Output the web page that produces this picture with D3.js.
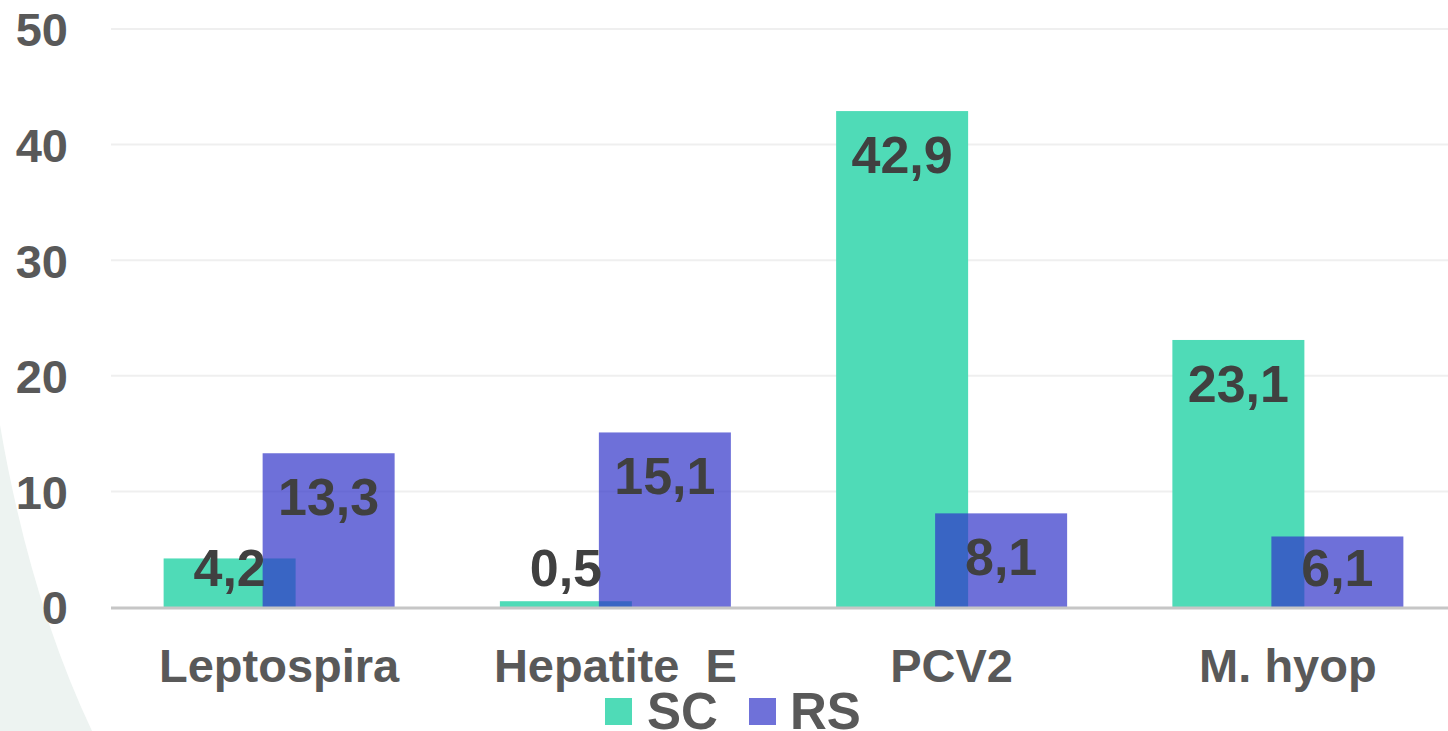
<!DOCTYPE html>
<html>
<head>
<meta charset="utf-8">
<script src="https://cdn.jsdelivr.net/npm/d3@7"></script>
<style>
  html, body { margin: 0; padding: 0; background: #ffffff; overflow: hidden; }
  svg { display: block; font-family: "Liberation Sans", Arial, sans-serif; }
</style>
</head>
<body>
<svg id="chart" width="1448" height="731"></svg>
<script>
const categories = ["Leptospira", "Hepatite  E", "PCV2", "M. hyop"];
const seriesNames = ["SC", "RS"];
const scValues = [4.2, 0.5, 42.9, 23.1];
const rsValues = [13.3, 15.1, 8.1, 6.1];
const yTicks = [0, 10, 20, 30, 40, 50];
const valueLabels = { SC: ["4,2", "0,5", "42,9", "23,1"], RS: ["13,3", "15,1", "8,1", "6,1"] };

const colors = { SC: "#4fdbb7", RS: "rgba(48,51,201,0.7)" };
const legendColors = { SC: "#4fdbb7", RS: "#6f71d9" };

const svg = d3.select("#chart");

// faint background decoration
svg.append("path")
  .attr("d", "M0,425 Q30,600 92,731 L0,731 Z")
  .attr("fill", "#edf3f1");

const x = d3.scaleBand().domain(categories).range([111, 1456]).padding(0);
const y = d3.scaleLinear().domain([0, 50]).range([607, 29]);
const off = d3.scalePoint().domain(seriesNames).range([-49.5, 49.5]);
const barW = 132;

// gridlines
svg.append("g").selectAll("line").data(yTicks.filter(d => d !== 0)).join("line")
  .attr("x1", 111).attr("x2", 1448)
  .attr("y1", d => y(d)).attr("y2", d => y(d))
  .attr("stroke", "#efefef").attr("stroke-width", 2);

// y axis labels
const yAxis = d3.axisLeft(y).tickValues(yTicks).tickSize(0).tickPadding(0).tickFormat(d3.format("d"));
const gy = svg.append("g").attr("transform", "translate(68,0)").call(yAxis);
gy.select(".domain").remove();
gy.selectAll("text")
  .attr("font-size", 47).attr("font-weight", "bold").attr("fill", "#595959")
  .attr("font-family", "'Liberation Sans', Arial, sans-serif")
  .attr("dy", "0.36em");

const rows = categories.map((c, i) => ({ cat: c, SC: scValues[i], RS: rsValues[i], i }));

// bars
seriesNames.forEach(s => {
  svg.append("g").selectAll("rect").data(rows).join("rect")
    .attr("x", d => x(d.cat) + x.bandwidth() / 2 + off(s) - barW / 2)
    .attr("y", d => y(d[s]))
    .attr("width", barW)
    .attr("height", d => y(0) - y(d[s]))
    .attr("fill", colors[s]);
});

// baseline
svg.append("line")
  .attr("x1", 111).attr("x2", 1448).attr("y1", y(0) + 1).attr("y2", y(0) + 1)
  .attr("stroke", "#c6c6c6").attr("stroke-width", 3);

// value labels
seriesNames.forEach(s => {
  svg.append("g").selectAll("text").data(rows).join("text")
    .attr("x", d => x(d.cat) + x.bandwidth() / 2 + off(s))
    .attr("y", d => Math.min(y(d[s]) + 62, 586))
    .attr("text-anchor", "middle")
    .attr("font-size", 52).attr("font-weight", "bold").attr("fill", "#404040")
    .text(d => valueLabels[s][d.i]);
});

// x axis labels
const xAxis = d3.axisBottom(x).tickSize(0).tickPadding(0);
const gx = svg.append("g").attr("transform", "translate(0,682)").call(xAxis);
gx.select(".domain").remove();
gx.selectAll("text")
  .attr("font-size", 47).attr("font-weight", "bold").attr("fill", "#595959")
  .attr("font-family", "'Liberation Sans', Arial, sans-serif")
  .attr("dy", 0).attr("y", 0)
  .style("white-space", "pre");

// legend
const legendItems = [{ name: "SC", sx: 605, tx: 647 }, { name: "RS", sx: 749, tx: 790 }];
const lg = svg.append("g");
lg.selectAll("rect").data(legendItems).join("rect")
  .attr("x", d => d.sx).attr("y", 698).attr("width", 27).attr("height", 27)
  .attr("fill", d => legendColors[d.name]);
lg.selectAll("text").data(legendItems).join("text")
  .attr("x", d => d.tx).attr("y", 729)
  .attr("font-size", 51).attr("font-weight", "bold").attr("fill", "#595959")
  .text(d => d.name);
</script>
</body>
</html>
